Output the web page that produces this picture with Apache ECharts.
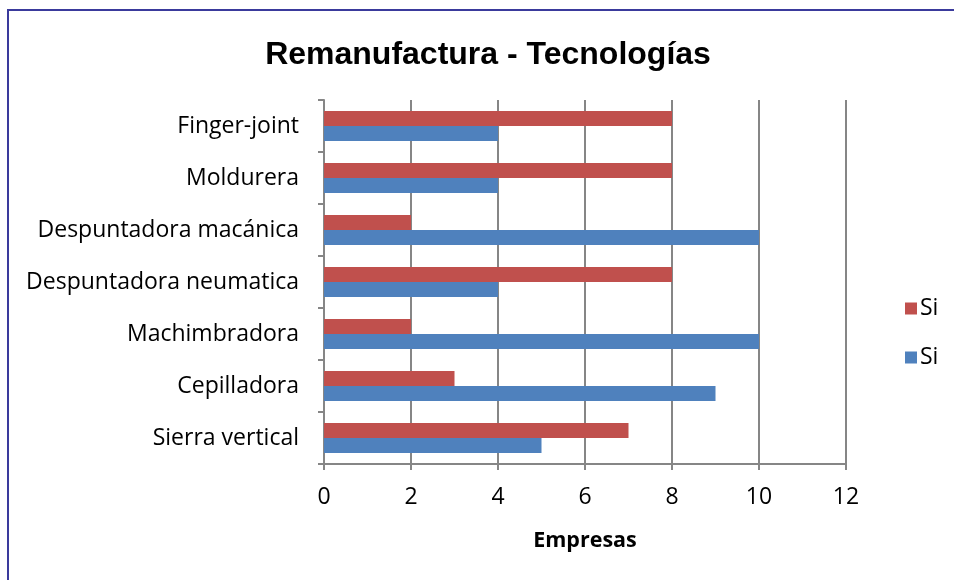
<!DOCTYPE html>
<html><head><meta charset="utf-8">
<script src="https://cdn.jsdelivr.net/npm/echarts@6/dist/echarts.min.js"></script>
<style>html,body{margin:0;padding:0;background:#fff}#c{width:954px;height:580px}</style>
</head><body><div id="c"></div>
<script>
var categories = ['Sierra vertical','Cepilladora','Machimbradora','Despuntadora neumatica','Despuntadora macánica','Moldurera','Finger-joint'];
var redValues = [7, 3, 2, 8, 2, 8, 8];
var blueValues = [5, 9, 10, 4, 10, 4, 4];
var xTicks = [0, 2, 4, 6, 8, 10, 12];
var seriesNames = ['Si', 'Si '];

var chart = echarts.init(document.getElementById('c'), null, {renderer:'canvas'});
var gray = '#868686';
var lf = 'Open Sans';
chart.setOption({
  animation: false,
  title: {text: 'Remanufactura - Tecnologías', left: 483, textAlign: 'center', top: 34,
    textStyle: {fontFamily: 'Liberation Sans, Arial', fontWeight: 'bold', fontSize: 32, color: '#000'}},
  graphic: [{type: 'rect', shape: {x: 8, y: 10, width: 1200, height: 1200},
    style: {fill: 'none', stroke: '#3A3A9C', lineWidth: 2}, silent: true}],
  legend: {orient: 'vertical', left: 900, top: 292, itemGap: 26, itemWidth: 12, itemHeight: 12,
    icon: 'rect', data: [seriesNames[0], seriesNames[1]],
    formatter: function(n){return n.trim();},
    textStyle: {fontFamily: lf, fontSize: 23, color: '#000', padding: [0,0,0,-2]}},
  grid: {left: 324, right: 108, top: 100, bottom: 116},
  xAxis: {type: 'value', min: 0, max: 12, interval: 2,
    name: 'Empresas', nameLocation: 'middle', nameGap: 66,
    nameTextStyle: {fontFamily: lf, fontWeight: 'bold', fontSize: 21.5, color: '#000'},
    axisLine: {show: true, lineStyle: {color: gray, width: 2}},
    axisTick: {show: true, length: 6, lineStyle: {color: gray, width: 2}},
    splitLine: {show: true, lineStyle: {color: gray, width: 2}},
    axisLabel: {margin: 22, fontFamily: lf, fontSize: 23, color: '#000',
      formatter: function(v){return xTicks.indexOf(v) >= 0 ? String(v) : '';}}},
  yAxis: {type: 'category', data: categories,
    axisLine: {show: true, lineStyle: {color: gray, width: 2}},
    axisTick: {show: true, length: 6, lineStyle: {color: gray, width: 2}},
    axisLabel: {margin: 25, fontFamily: lf, fontSize: 23, color: '#000'}},
  series: [
    {name: seriesNames[0], type: 'bar', data: redValues, itemStyle: {color: '#C0504D'}, barGap: '0%', barCategoryGap: '42%'},
    {name: seriesNames[1], type: 'bar', data: blueValues, itemStyle: {color: '#4F81BD'}, barGap: '0%', barCategoryGap: '42%'}
  ]
});
</script></body></html>
